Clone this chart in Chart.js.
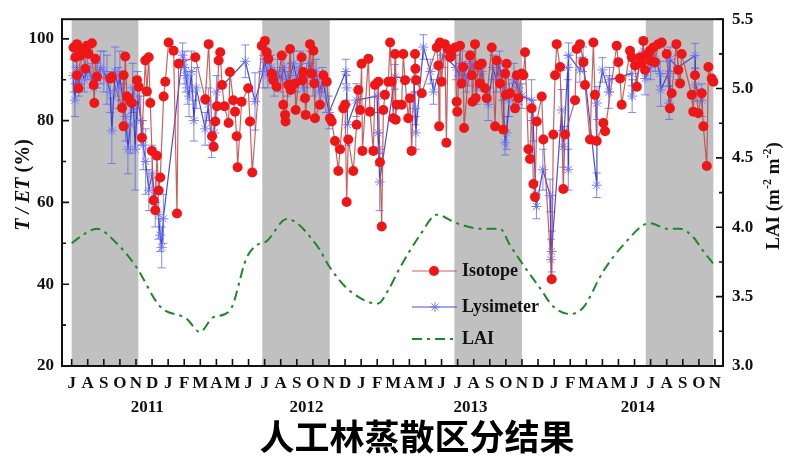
<!DOCTYPE html>
<html>
<head>
<meta charset="utf-8">
<script src="https://cdn.jsdelivr.net/npm/chart.js@4.4.0/dist/chart.umd.min.js"></script>
<style>
html, body { margin: 0; padding: 0; background: #fff; }
#wrap { width: 789px; height: 462px; }
</style>
</head>
<body>
<div id="wrap"><canvas id="chart" width="789" height="462"></canvas></div>
<script>
// month letters starting July 2011, x value 0 = July 2011
const monthLetters = ['J','A','S','O','N','D','J','F','M','A','M','J'];
const yearLabels = ['2011', '2012', '2013', '2014'];
const yearPos = [4.7, 14.6, 24.8, 35.2];
const grayBands = [[0, 4.15], [11.85, 16.05], [23.8, 28.0], [35.7, 39.9]];
const teTicks = [20, 40, 60, 80, 100];
const laiTicks = [3.0, 3.5, 4.0, 4.5, 5.0, 5.5];

// Isotope T/ET (%)
const isoMonth = [
  0.12,0.23,0.33,0.33,0.43,0.54,0.64,0.85,0.95,1.05,
  1.26,1.37,1.41,1.47,1.57,2.4,2.5,3.13,3.23,3.23,
  3.33,3.44,3.65,3.75,4.06,4.17,4.37,4.58,4.68,4.79,
  4.89,4.99,5.1,5.2,5.3,5.41,5.51,5.72,5.82,6.03,
  6.34,6.55,6.65,7.69,8.31,8.52,8.73,8.83,8.93,9.04,
  9.14,9.24,9.35,9.5,9.76,9.84,10.05,10.16,10.26,10.32,
  10.57,10.98,11.09,11.23,11.82,12.02,12.13,12.23,12.44,12.54,
  12.75,13.06,13.16,13.27,13.3,13.47,13.58,13.62,13.89,13.93,
  14.3,14.35,14.4,14.51,14.55,14.82,14.93,15.03,15.08,15.13,
  15.44,15.65,15.86,16.06,16.17,16.37,16.58,16.69,16.89,17.0,
  17.1,17.2,17.51,17.72,17.82,17.93,18.03,18.08,18.45,18.55,
  18.76,18.86,19.07,19.17,19.28,19.38,19.48,19.69,19.8,19.9,
  20.0,20.11,20.15,20.21,20.52,20.62,20.73,20.93,21.04,21.14,
  21.35,21.38,21.42,21.77,22.7,22.8,22.85,22.9,23.0,23.2,
  23.3,23.4,23.53,23.6,23.84,23.94,23.98,24.15,24.25,24.35,
  24.4,24.77,24.88,24.92,25.08,25.12,25.29,25.39,25.5,25.7,
  25.81,26.12,26.33,26.43,26.64,26.84,26.95,27.0,27.05,27.26,
  27.57,27.68,27.77,27.99,28.09,28.19,28.4,28.5,28.6,28.71,
  28.81,28.92,29.23,29.33,29.85,29.95,30.06,30.16,30.37,30.57,
  30.68,31.3,31.4,31.61,31.82,31.92,32.23,32.44,32.54,32.65,
  33.06,33.17,33.89,33.99,34.1,34.2,34.72,34.83,35.03,35.14,
  35.34,35.4,35.55,35.65,35.75,35.86,35.96,36.0,36.17,36.27,
  36.48,36.69,37.0,37.2,37.31,37.6,37.72,37.83,37.93,38.55,
  38.65,38.76,38.96,39.18,39.28,39.49,39.59,39.8,39.9
];
const isoTE = [
  97.9,95.5,98.7,91.1,87.9,95.9,97.5,92.7,98.3,96.3,
  98.9,88.7,84.3,95.1,90.7,90.3,90.7,83.1,91.1,78.6,
  95.7,85.9,84.7,84.3,89.9,88.3,75.8,94.7,87.1,95.5,
  84.3,72.6,60.5,58.1,71.4,62.9,66.1,85.9,89.5,99.1,
  97.1,57.3,93.9,95.5,85.2,98.7,76.2,73.6,79.8,83.5,
  94.7,96.7,88.7,83.5,79.4,91.9,85.0,82.2,76.2,68.6,
  84.6,87.9,79.8,67.3,98.3,99.5,96.7,95.1,91.5,89.9,
  88.3,95.9,83.9,81.4,79.8,88.7,97.5,87.5,89.1,82.6,
  95.5,89.9,91.9,85.5,81.4,98.7,91.5,97.1,89.1,80.6,
  83.9,91.1,89.5,80.6,79.8,75.0,67.7,73.0,83.0,83.9,
  60.1,75.4,67.7,79.0,87.5,82.6,93.9,72.6,95.1,82.2,
  72.6,88.7,89.5,69.8,54.1,82.6,86.3,89.5,99.1,89.5,
  80.6,96.3,80.2,83.9,83.9,96.3,89.9,80.6,85.5,72.6,
  96.3,92.7,89.9,86.7,97.9,93.5,78.6,99.1,89.5,98.7,
  74.6,97.5,95.5,95.9,97.9,84.6,82.2,98.3,89.1,93.1,
  78.2,95.9,91.1,84.6,98.7,85.5,93.5,89.1,93.9,87.9,
  85.5,97.9,78.6,94.7,89.1,77.8,91.5,86.3,93.9,86.7,
  83.0,91.1,85.5,91.5,91.1,96.7,73.0,70.6,83.0,64.5,
  61.3,79.8,85.9,75.4,41.2,76.6,91.1,98.7,93.1,63.3,
  76.6,85.0,97.5,98.7,94.3,88.7,75.4,99.1,86.3,75.0,
  79.4,77.4,98.3,94.3,90.3,83.9,97.1,95.5,93.5,88.3,
  95.5,94.0,99.5,92.4,96.0,95.9,97.1,94.6,97.9,94.3,
  98.7,99.1,96.3,83.0,86.7,98.7,92.4,89.1,96.3,86.3,
  82.2,91.1,81.8,86.7,78.6,68.9,93.1,90.3,89.5
];

// Lysimeter T/ET (%) with error bar half-widths
const lysMonth = [
  0.1,0.2,0.3,0.45,0.6,0.8,1.0,1.2,1.4,1.6,
  1.8,2.0,2.2,2.4,2.5,2.7,2.9,3.0,3.2,3.35,
  3.5,3.65,3.8,3.95,4.1,4.3,4.45,4.6,4.8,5.0,
  5.2,5.4,5.5,5.6,5.7,6.9,7.0,7.1,7.2,7.3,
  7.45,7.6,7.75,8.3,8.5,8.7,8.85,9.0,10.8,11.4,
  11.9,12.0,12.2,12.4,12.6,12.8,13.0,13.2,13.4,13.6,
  13.8,14.0,14.2,14.4,14.6,14.8,15.0,15.2,15.4,15.6,
  15.8,16.0,17.05,17.1,17.15,17.7,19.0,19.05,19.1,19.15,
  20.1,21.3,21.35,21.4,21.87,22.3,22.5,23.1,23.9,24.1,
  24.3,24.5,24.7,24.9,25.2,25.5,25.9,26.2,26.4,26.6,
  26.8,26.95,27.05,27.2,27.5,27.8,28.0,28.6,28.7,28.85,
  28.9,29.3,29.75,29.8,29.85,30.47,30.57,30.85,30.88,30.9,
  31.6,31.8,32.65,32.66,33.0,33.4,33.45,34.83,34.85,35.55,
  35.65,36.0,36.3,36.59,36.62,37.1,37.15,37.2,37.7,38.76,
  38.78,39.18
];
const lysTE = [
  91,85,93,89,92,90,93,91,88,91,
  93,92,90,87,77.5,92,88,91,84,81,
  73,79,88,73,86,80,74,70,63,67,
  60,57,52,49,56,96,93,91,88,86,
  92,80,88,78,84,74,77,87,94.5,84.7,
  92,95,91,93,89,92,90,93,89,91,
  94,90,93,88,91,94,89,92,87,90,
  86,82,92,88,79,85,86,77,73,65,
  90.7,90,83,77,98,92,87,96,93,91,
  94,90,91.5,94,88,92,84,93,90,94,
  88,74.6,77,85,90,88,86,85,80,62,
  59,68,61.7,46,48,82.6,73.6,93,68,96,
  92.4,95,64.2,84.3,92.4,87,90,91.5,86,97,
  90.3,93,95,91.5,87.5,91.5,84.3,95,93,95.9,
  88.7,85
];
const lysErr = [
  4,4,4,3,3,3,3,3,3,3,
  4,5,6,5,8,6,5,6,5,6,
  6,7,6,10,6,6,6,8,5,7,
  6,6,4,5,6,3,4,4,4,5,
  5,5,5,4,4,3,3,4,4,7,
  4,3,3,3,3,3,3,3,3,3,
  3,3,4,3,3,3,3,3,4,3,
  4,4,3,3,5,4,4,5,4,7,
  3,3,4,4,3,3,3,3,3,3,
  3,3,3,3,4,3,4,3,3,3,
  3,3,4,4,4,4,3,5,5,3,
  3,5,4,5,5,5,5,3,5,3,
  3,3,3,4,3,4,3,3,4,3,
  4,3,3,3,4,3,4,3,3,3,
  4,4
];

// LAI (m-2 m-2), right axis
const laiMonth = [0,0.77,1.55,2.8,4.04,5.49,7.15,7.98,8.79,9.84,10.88,11.5,12.13,13.37,15.24,16.06,17.31,19.05,19.7,20.42,21.7,22.7,23.94,25.39,26.63,27.26,28.07,29.13,29.93,30.99,31.8,33.04,34.28,35.96,37.02,37.83,38.64,39.26,39.88];
const laiValue = [3.885,3.95,3.99,3.885,3.71,3.43,3.34,3.245,3.35,3.40,3.78,3.87,3.90,4.06,3.87,3.71,3.54,3.45,3.55,3.71,3.95,4.09,4.03,3.99,3.99,3.87,3.73,3.56,3.43,3.375,3.42,3.68,3.87,4.03,3.99,3.99,3.93,3.83,3.74];

const serif = "'Liberation Serif', 'Times New Roman', serif";
const RED = 'rgb(238,22,22)';
const RED_LINE = 'rgba(190,70,70,0.85)';
const BLUE_LINE = 'rgba(45,45,205,0.85)';
const BLUE_PT = 'rgba(105,115,245,0.9)';
const GREEN = 'rgb(30,135,40)';

const monthTicks = [];
for (let i = 0; i <= 40; i++) monthTicks.push(i);

function toXY(xs, ys) {
  return xs.map((x, i) => ({ x: x, y: ys[i] }));
}

const decor = {
  id: 'decor',
  beforeDatasetsDraw(chart) {
    const { ctx, chartArea: a, scales } = chart;
    ctx.save();
    ctx.fillStyle = '#c0c0c0';
    grayBands.forEach(b => {
      const x0 = scales.x.getPixelForValue(b[0]);
      const x1 = scales.x.getPixelForValue(b[1]);
      ctx.fillRect(x0, a.top, x1 - x0, a.bottom - a.top);
    });
    // error bars of lysimeter
    ctx.strokeStyle = 'rgba(90,100,235,0.75)';
    ctx.lineWidth = 1;
    lysMonth.forEach((m, i) => {
      const px = scales.x.getPixelForValue(m);
      const top = scales.y.getPixelForValue(lysTE[i] + lysErr[i]);
      const bot = scales.y.getPixelForValue(lysTE[i] - lysErr[i]);
      ctx.beginPath();
      ctx.moveTo(px, top); ctx.lineTo(px, bot);
      ctx.moveTo(px - 4, top); ctx.lineTo(px + 4, top);
      ctx.moveTo(px - 4, bot); ctx.lineTo(px + 4, bot);
      ctx.stroke();
    });
    ctx.restore();
  },
  afterDatasetsDraw(chart) {
    const { ctx, chartArea: a, scales } = chart;
    ctx.save();
    ctx.strokeStyle = '#111';
    ctx.lineWidth = 2;
    ctx.strokeRect(a.left, a.top, a.right - a.left, a.bottom - a.top);
    ctx.lineWidth = 1.6;
    ctx.beginPath();
    monthTicks.forEach(m => {
      const px = scales.x.getPixelForValue(m);
      ctx.moveTo(px, a.bottom); ctx.lineTo(px, a.bottom - 7);
    });
    for (let v = 20; v <= 100; v += 10) {
      const py = scales.y.getPixelForValue(v);
      ctx.moveTo(a.left, py); ctx.lineTo(a.left + (v % 20 === 0 ? 7 : 4), py);
    }
    for (let v = 3.0; v <= 5.5001; v += 0.25) {
      const py = scales.y2.getPixelForValue(v);
      const major = Math.abs(v * 2 - Math.round(v * 2)) < 1e-6;
      ctx.moveTo(a.right, py); ctx.lineTo(a.right - (major ? 7 : 4), py);
    }
    ctx.stroke();

    // legend
    const lx0 = 412, lx1 = 457, tx = 462;
    ctx.font = 'bold 18px ' + serif;
    ctx.textBaseline = 'middle';
    ctx.fillStyle = '#111';
    // Isotope
    let ly = 271;
    ctx.strokeStyle = RED_LINE; ctx.lineWidth = 1.2;
    ctx.beginPath(); ctx.moveTo(lx0, ly); ctx.lineTo(lx1, ly); ctx.stroke();
    ctx.fillStyle = RED;
    ctx.beginPath(); ctx.arc(434, ly, 5, 0, Math.PI * 2); ctx.fill();
    ctx.fillStyle = '#111';
    ctx.fillText('Isotope', tx, ly);
    // Lysimeter
    ly = 307;
    ctx.strokeStyle = BLUE_LINE; ctx.lineWidth = 1.2;
    ctx.beginPath(); ctx.moveTo(lx0, ly); ctx.lineTo(lx1, ly); ctx.stroke();
    ctx.strokeStyle = BLUE_PT; ctx.lineWidth = 1;
    ctx.beginPath();
    for (let k = 0; k < 4; k++) {
      const ang = k * Math.PI / 4;
      ctx.moveTo(435 - 5 * Math.cos(ang), ly - 5 * Math.sin(ang));
      ctx.lineTo(435 + 5 * Math.cos(ang), ly + 5 * Math.sin(ang));
    }
    ctx.stroke();
    ctx.fillText('Lysimeter', tx, ly);
    // LAI
    ly = 339;
    ctx.strokeStyle = GREEN; ctx.lineWidth = 2;
    ctx.setLineDash([10, 5, 3, 5]);
    ctx.beginPath(); ctx.moveTo(lx0, ly); ctx.lineTo(lx1 - 4, ly); ctx.stroke();
    ctx.setLineDash([]);
    ctx.fillText('LAI', tx, ly);
    ctx.restore();
  },
  afterDraw(chart) {
    const { ctx, scales } = chart;
    ctx.save();
    ctx.fillStyle = '#111';
    ctx.textBaseline = 'middle';
    ctx.textAlign = 'center';
    ctx.font = 'bold 17px ' + serif;
    yearLabels.forEach((t, i) => {
      ctx.fillText(t, scales.x.getPixelForValue(yearPos[i]), 408);
    });

    // left axis title
    const drawParts = (parts, cx, cy) => {
      let total = 0;
      parts.forEach(p => { ctx.font = p.f; total += ctx.measureText(p.t).width; });
      ctx.save();
      ctx.translate(cx, cy);
      ctx.rotate(-Math.PI / 2);
      ctx.textAlign = 'left';
      ctx.textBaseline = 'alphabetic';
      let x = -total / 2;
      parts.forEach(p => {
        ctx.font = p.f;
        ctx.fillText(p.t, x, p.dy || 0);
        x += ctx.measureText(p.t).width;
      });
      ctx.restore();
    };
    const nb = 'bold 20px ' + serif;
    const ib = 'italic bold 20px ' + serif;
    drawParts([
      { t: 'T', f: ib }, { t: ' / ', f: ib }, { t: 'ET', f: ib }, { t: ' (%)', f: nb }
    ], 29, 185);
    const rb = 'bold 19px ' + serif;
    const sb = 'bold 12px ' + serif;
    drawParts([
      { t: 'LAI (m', f: rb }, { t: '-2', f: sb, dy: -8 }, { t: ' m', f: rb },
      { t: '-2', f: sb, dy: -8 }, { t: ')', f: rb }
    ], 779, 196);

    // caption
    ctx.textAlign = 'center';
    ctx.textBaseline = 'middle';
    ctx.font = "bold 35px 'Noto Sans CJK SC', sans-serif";
    ctx.fillStyle = '#000';
    ctx.fillText('人工林蒸散区分结果', 417, 437);
    ctx.restore();
  }
};

const tickFont = { family: serif, size: 17, weight: 'bold' };

new Chart(document.getElementById('chart'), {
  type: 'line',
  data: {
    datasets: [
      {
        label: 'Isotope',
        data: toXY(isoMonth, isoTE),
        yAxisID: 'y',
        borderColor: RED_LINE,
        borderWidth: 1.2,
        pointRadius: 5,
        pointBackgroundColor: RED,
        pointBorderWidth: 0,
        tension: 0
      },
      {
        label: 'Lysimeter',
        data: toXY(lysMonth, lysTE),
        yAxisID: 'y',
        borderColor: BLUE_LINE,
        borderWidth: 1.2,
        pointStyle: 'star',
        pointRadius: 5,
        pointBorderColor: BLUE_PT,
        pointBackgroundColor: BLUE_PT,
        pointBorderWidth: 1,
        tension: 0
      },
      {
        label: 'LAI',
        data: toXY(laiMonth, laiValue),
        yAxisID: 'y2',
        borderColor: GREEN,
        borderWidth: 2,
        borderDash: [10, 5, 3, 5],
        pointRadius: 0,
        cubicInterpolationMode: 'monotone'
      }
    ]
  },
  options: {
    responsive: false,
    animation: false,
    devicePixelRatio: 1,
    layout: { padding: { top: 15, left: 0, right: 0, bottom: 0 } },
    plugins: { legend: { display: false }, tooltip: { enabled: false } },
    scales: {
      x: {
        type: 'linear',
        min: -0.6,
        max: 40.5,
        grid: { display: false, drawTicks: false },
        border: { display: false },
        afterBuildTicks: s => { s.ticks = monthTicks.map(v => ({ value: v })); },
        afterFit: s => { s.height = 96; },
        ticks: {
          autoSkip: false,
          maxRotation: 0,
          padding: 7,
          color: '#111',
          font: tickFont,
          callback: v => monthLetters[((v % 12) + 12) % 12]
        }
      },
      y: {
        position: 'left',
        min: 20,
        max: 104.8,
        grid: { display: false, drawTicks: false },
        border: { display: false },
        afterBuildTicks: s => { s.ticks = teTicks.map(v => ({ value: v })); },
        afterFit: s => { s.width = 62; },
        ticks: { padding: 8, color: '#111', font: tickFont }
      },
      y2: {
        position: 'right',
        min: 3.0,
        max: 5.5,
        grid: { display: false, drawTicks: false },
        border: { display: false },
        afterBuildTicks: s => { s.ticks = laiTicks.map(v => ({ value: v })); },
        afterFit: s => { s.width = 66; },
        ticks: { padding: 9, color: '#111', font: tickFont, callback: v => Number(v).toFixed(1) }
      }
    }
  },
  plugins: [decor]
});
</script>
</body>
</html>
